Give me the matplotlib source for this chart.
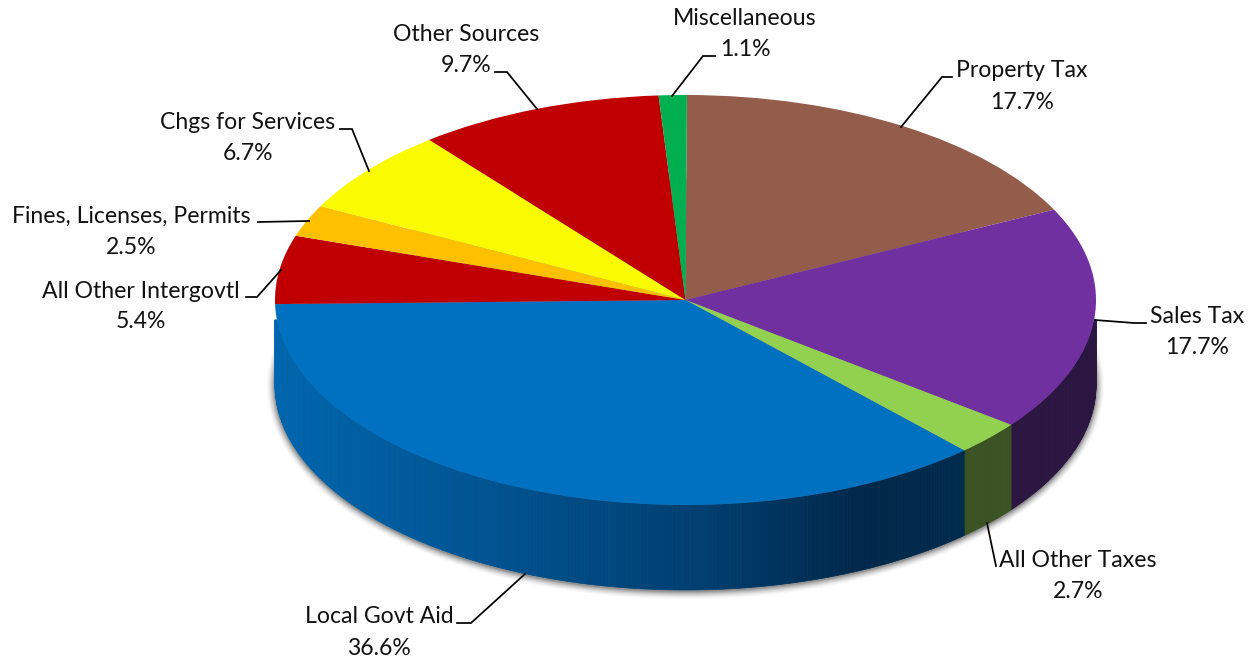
import numpy as np
import matplotlib
matplotlib.use("Agg")
import matplotlib.pyplot as plt
from matplotlib.transforms import Affine2D
from matplotlib.colors import to_rgb

categories = ["Property Tax", "Sales Tax", "All Other Taxes", "Local Govt Aid",
              "All Other Intergovtl", "Fines, Licenses, Permits", "Chgs for Services",
              "Other Sources", "Miscellaneous"]
values = [17.7, 17.7, 2.7, 36.6, 5.4, 2.5, 6.7, 9.7, 1.1]
top_colors = ["#935C4B", "#7030A0", "#92D050", "#0070C0", "#C00000",
              "#FFC000", "#FAFA00", "#C00000", "#00B050"]
# None = the blue gradient of the front wall
side_colors = ["#4A2E25", "#2B1541", "#3B5323", None, None,
               "#806000", "#808000", "#600000", "#005828"]
blue_stops_x = [275, 500, 700, 860, 965]
blue_stops_c = ["#0066AE", "#00528F", "#003F70", "#00284A", "#002B4C"]

# leader lines and label centres, in reference pixels
leaders = [[(901, 127), (942, 77), (952, 77)],
           [(1095, 320), (1134, 323), (1146, 323)],
           [(987, 523), (996, 566)],
           [(525, 574), (471, 623), (457, 623)],
           [(281, 270), (257, 297), (246, 297)],
           [(309, 221), (258, 222)],
           [(369, 171), (352, 129), (340, 129)],
           [(537, 109), (507, 72), (495, 72)],
           [(672, 96), (703, 56), (715, 56)]]
name_pos = [(1022, 77), (1197, 323), (1078, 567), (379, 623), (141, 298),
            (131, 223), (248, 129), (466, 41), (745, 25)]
pct_pos = [(1022, 109), (1197, 354), (1078, 598), (379, 655), (141, 328),
           (131, 254), (248, 160), (466, 72), (745, 56)]

W, H = 1249, 660
CX, CY, RX, RY, DEPTH = 685.5, 300.0, 410.5, 205.0, 85.0
START = 89.8

fig = plt.figure(figsize=(W / 100, H / 100), dpi=100, facecolor="white")
ax = fig.add_axes([0, 0, 1, 1])
px = Affine2D().scale(1, -1).translate(0, H)

depth_u = DEPTH / RY
wall_top = -20 / RY  # the wall only shows from 20 px below the ellipse's widest line

# soft shadow under the drum
t = np.radians(np.linspace(0, 360, 361))
for k, a in zip([8, 7, 6, 5, 4, 3, 2, 1], [0.03, 0.04, 0.05, 0.07, 0.09, 0.12, 0.16, 0.2]):
    ax.fill((1 + k / RX) * np.cos(t), (1 + k / RY) * np.sin(t) - depth_u - 1 / RY,
            color="#404040", alpha=a, lw=0, zorder=1)

# side walls
fractions = np.array(values) / sum(values)
edges = START - 360 * np.concatenate([[0], np.cumsum(fractions)])
for i, (a0, a1) in enumerate(zip(edges[:-1], edges[1:])):
    # a0 > a1, clockwise; keep only the part on the near half (angles in -180..0)
    hi, lo = min(a0, 0), max(a1, -180)
    if hi <= lo:
        continue
    steps = max(int((hi - lo) / 0.5), 1)
    ang = np.radians(np.linspace(hi, lo, steps + 1))
    for s in range(steps):
        seg = np.linspace(ang[s], ang[s + 1], 3)
        x = np.cos(seg)
        y = np.sin(seg)
        if side_colors[i] is None:
            xp = CX + RX * np.mean(x)
            c = [np.interp(xp, blue_stops_x, [to_rgb(v)[j] for v in blue_stops_c]) for j in range(3)]
        else:
            c = side_colors[i]
        ax.fill(np.r_[x, x[::-1]], np.r_[np.minimum(y, wall_top), y[::-1] - depth_u],
                color=c, lw=0.5, zorder=2)

# top face
ax.pie(values, colors=top_colors, startangle=START, counterclock=False, radius=1,
       wedgeprops=dict(lw=0, zorder=3), normalize=True)
ax.set_aspect("auto")
ax.set_xlim(-CX / RX, (W - CX) / RX)
ax.set_ylim((CY - H) / RY, CY / RY)
ax.axis("off")

font = dict(family="Lato", fontsize=16.6, color="#111111", ha="center", va="baseline",
            transform=px, zorder=6)
for name, v, np_, pp, ld in zip(categories, values, name_pos, pct_pos, leaders):
    ax.text(np_[0], np_[1], name, **font)
    ax.text(pp[0], pp[1], f"{v:.1f}%", **font)
    xs, ys = zip(*ld)
    ax.plot(xs, ys, color="black", lw=1.25, transform=px, zorder=5, solid_joinstyle="miter")

fig.savefig("out.png", dpi=100)
